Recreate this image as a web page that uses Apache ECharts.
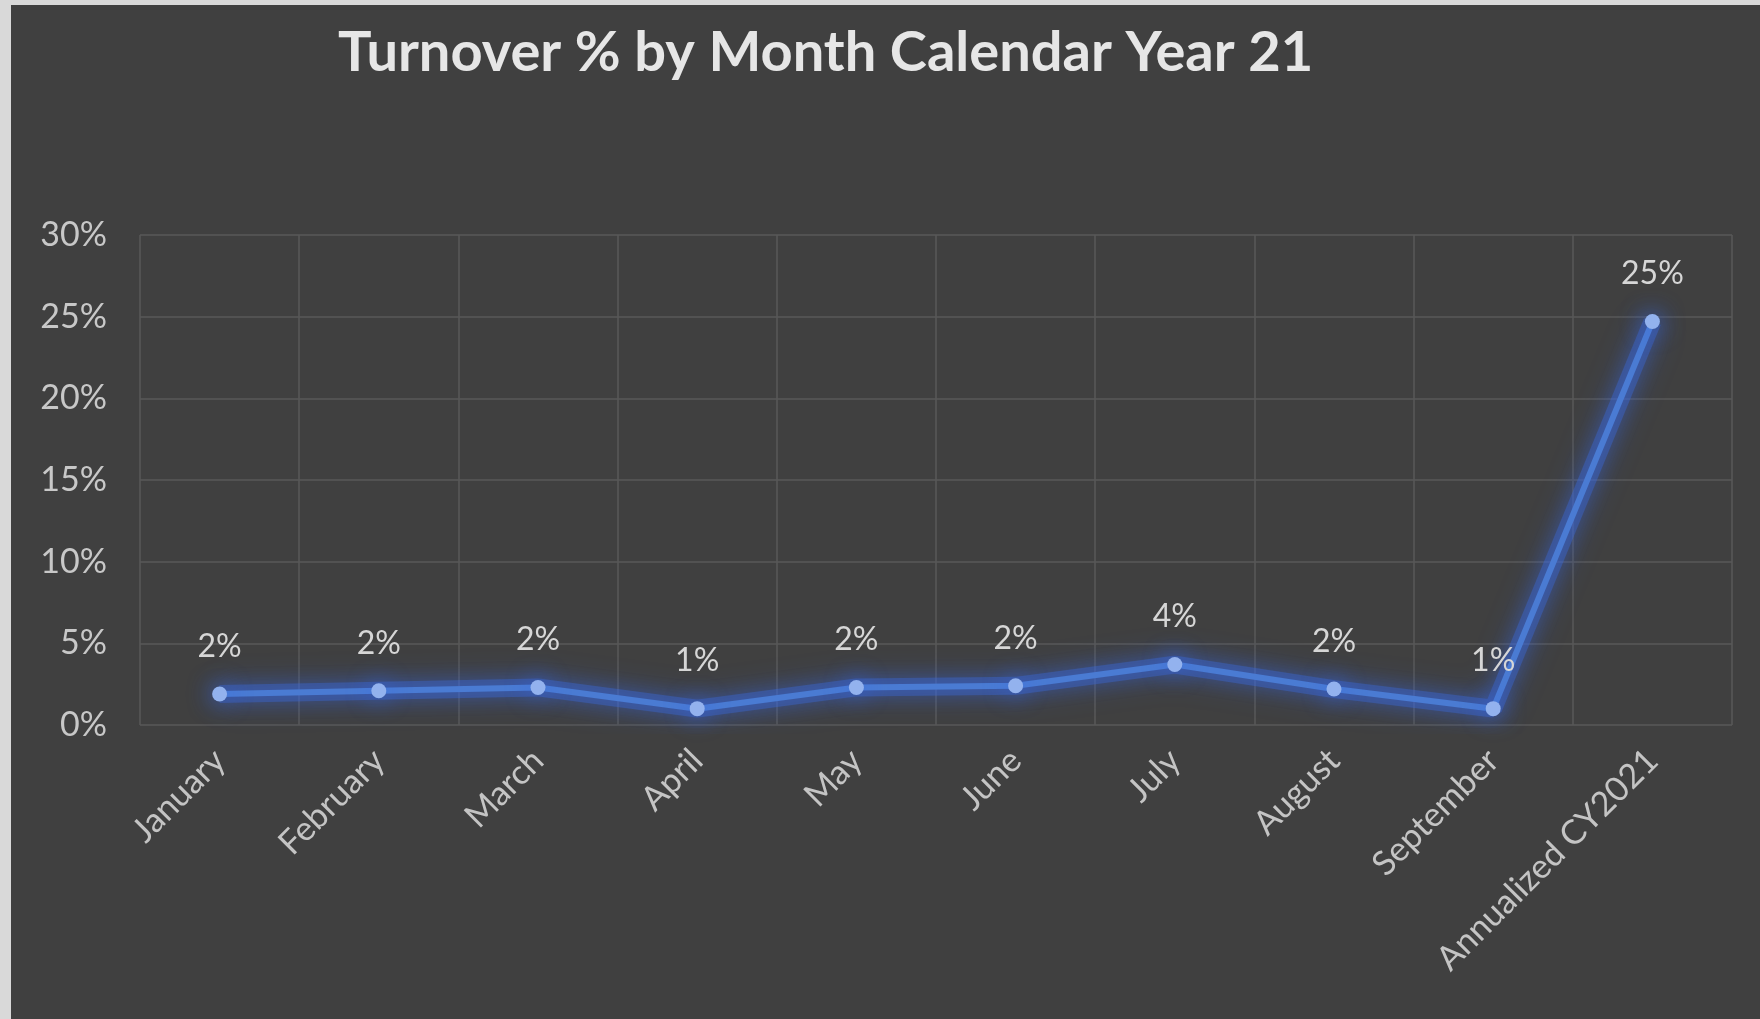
<!DOCTYPE html>
<html>
<head>
<meta charset="utf-8">
<title>Turnover % by Month</title>
<script src="https://cdn.jsdelivr.net/npm/echarts@6/dist/echarts.min.js"></script>
<style>
  html, body { margin: 0; padding: 0; width: 1760px; height: 1019px; background: #d9d9d9; overflow: hidden; }
  #chart { position: absolute; left: 11px; top: 5px; width: 1749px; height: 1014px; }
</style>
</head>
<body>
<div id="chart"></div>
<script>
// categories on the x axis
var months = ['January', 'February', 'March', 'April', 'May', 'June', 'July', 'August', 'September', 'Annualized CY2021'];
// turnover in percent
var turnover = [1.9, 2.1, 2.3, 1.0, 2.3, 2.4, 3.7, 2.2, 1.0, 24.7];
// y axis ticks
var yMin = 0, yMax = 30, yStep = 5;

var font = 'Lato, "Open Sans", sans-serif';

var chartDom = echarts.init(document.getElementById('chart'));
chartDom.setOption({
  backgroundColor: '#404040',
  animation: false,
  title: {
    text: 'Turnover % by Month Calendar Year 21',
    left: 322,
    top: 15,
    textStyle: { color: '#e6e6e6', fontSize: 56, fontWeight: 'bold', fontFamily: font }
  },
  grid: { left: 129, right: 28, top: 230, bottom: 294 },
  xAxis: {
    type: 'category',
    data: months,
    boundaryGap: true,
    axisLine: { show: false },
    axisTick: { show: false },
    splitLine: { show: true, lineStyle: { color: '#595959', width: 1.5 } },
    axisLabel: {
      interval: 0,
      rotate: 45,
      margin: 30,
      color: '#c4c4c4',
      fontSize: 34,
      fontFamily: font
    }
  },
  yAxis: {
    type: 'value',
    min: yMin,
    max: yMax,
    interval: yStep,
    axisLine: { show: false },
    axisTick: { show: false },
    splitLine: { lineStyle: { color: '#595959', width: 1.5 } },
    axisLabel: {
      formatter: '{value}%',
      margin: 33,
      color: '#c8c8c8',
      fontSize: 34,
      fontFamily: font
    }
  },
  series: [
    {
      // soft halo under the line (same data)
      type: 'line',
      data: turnover,
      silent: true,
      symbol: 'none',
      z: 1,
      lineStyle: {
        color: 'rgba(60,110,230,0.35)',
        width: 18,
        shadowBlur: 30,
        shadowColor: 'rgba(55,105,235,0.9)'
      }
    },
    {
      type: 'line',
      data: turnover,
      symbol: 'circle',
      symbolSize: 15,
      z: 2,
      lineStyle: {
        color: '#4a7bd3',
        width: 6,
        shadowBlur: 20,
        shadowColor: 'rgba(55,105,235,1)'
      },
      itemStyle: {
        color: '#93b2ee',
        shadowBlur: 24,
        shadowColor: 'rgba(55,105,235,1)'
      },
      label: {
        show: true,
        position: 'top',
        distance: 24,
        color: '#d6d6d6',
        fontSize: 32,
        fontFamily: font,
        formatter: function (p) { return Math.round(p.value) + '%'; }
      }
    }
  ]
});
</script>
</body>
</html>
